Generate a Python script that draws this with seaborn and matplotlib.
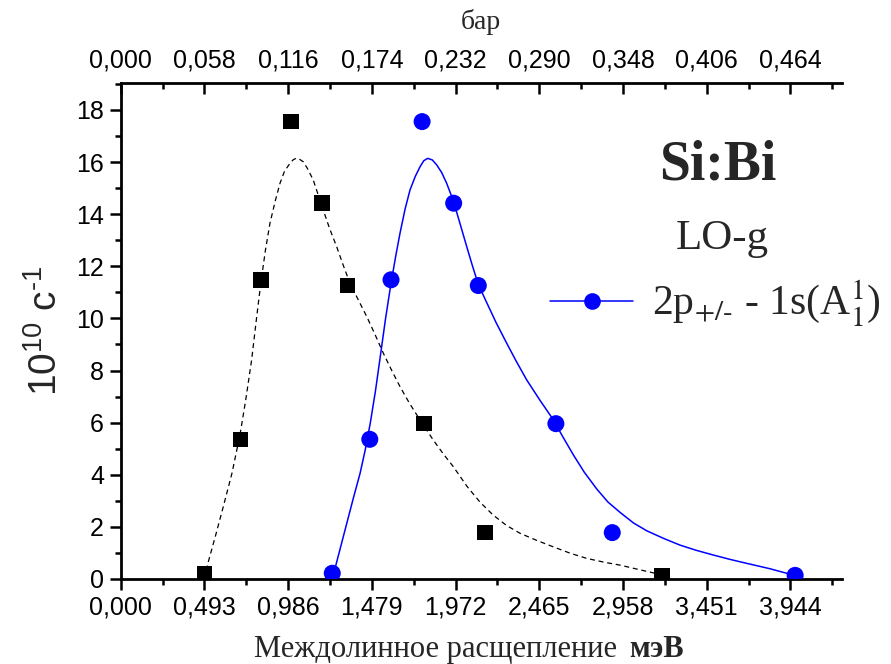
import numpy as np
import pandas as pd
import matplotlib
matplotlib.use("Agg")
import matplotlib.pyplot as plt
import seaborn as sns
from matplotlib.lines import Line2D
from matplotlib.font_manager import FontProperties
from matplotlib.ticker import FixedLocator, FixedFormatter

# ---------------- data ----------------
lo_x = [0.493, 0.705, 0.825, 1.003, 1.186, 1.335, 1.785, 2.146, 3.187]
lo_y = [0.22, 5.36, 11.48, 17.55, 14.42, 11.26, 5.96, 1.78, 0.14]

tp_x = [1.246, 1.467, 1.592, 1.775, 1.961, 2.106, 2.563, 2.895, 3.972]
tp_y = [0.22, 5.36, 11.48, 17.55, 14.42, 11.26, 5.96, 1.78, 0.14]

lo_fit_x = [0.493, 0.516, 0.560, 0.604, 0.655, 0.703, 0.737, 0.771, 0.798, 0.825,
            0.852, 0.879, 0.910, 0.938, 0.965, 0.997, 1.015, 1.032, 1.050, 1.075,
            1.100, 1.134, 1.160, 1.193, 1.230, 1.272, 1.310, 1.350, 1.400, 1.449,
            1.500, 1.547, 1.600, 1.645, 1.700, 1.763, 1.841, 1.900, 1.959, 2.040,
            2.116, 2.194, 2.273, 2.353, 2.451, 2.549, 2.647, 2.745, 2.843, 2.942,
            3.040, 3.160]
lo_fit_y = [0.00, 0.66, 1.70, 2.77, 4.05, 5.55, 6.90, 8.40, 9.90, 11.35,
            12.60, 13.65, 14.50, 15.18, 15.65, 15.95, 16.08, 16.14, 16.12, 16.01,
            15.75, 15.31, 14.80, 14.16, 13.45, 12.75, 12.05, 11.35, 10.70, 10.07,
            9.35, 8.66, 7.95, 7.38, 6.75, 6.10, 5.33, 4.80, 4.31, 3.55,
            2.95, 2.45, 2.05, 1.75, 1.48, 1.23, 0.99, 0.79, 0.65, 0.53,
            0.38, 0.20]

tp_fit_x = [1.250, 1.290, 1.332, 1.370, 1.410, 1.440, 1.469, 1.500, 1.528, 1.560,
            1.592, 1.620, 1.645, 1.675, 1.704, 1.735, 1.763, 1.785, 1.808, 1.835,
            1.861, 1.890, 1.920, 1.945, 1.969, 2.000, 2.038, 2.070, 2.106, 2.156,
            2.210, 2.273, 2.330, 2.391, 2.470, 2.549, 2.600, 2.667, 2.730, 2.804,
            2.870, 2.942, 3.020, 3.098, 3.200, 3.294, 3.390, 3.490, 3.590, 3.687,
            3.820, 3.962]
tp_fit_y = [0.10, 1.10, 2.15, 3.10, 4.06, 4.95, 5.95, 7.20, 8.50, 10.00,
            11.35, 12.40, 13.27, 14.20, 14.93, 15.45, 15.82, 16.05, 16.14, 16.08,
            15.89, 15.60, 15.18, 14.75, 14.29, 13.60, 12.75, 12.05, 11.30, 10.60,
            9.85, 9.05, 8.35, 7.64, 6.85, 6.10, 5.50, 4.75, 4.10, 3.45,
            2.95, 2.55, 2.15, 1.85, 1.55, 1.30, 1.10, 0.92, 0.75, 0.60,
            0.40, 0.15]

x_ticks = [0.000, 0.493, 0.986, 1.479, 1.972, 2.465, 2.958, 3.451, 3.944]
x_tick_labels = ["0,000", "0,493", "0,986", "1,479", "1,972", "2,465", "2,958", "3,451", "3,944"]
bar_ticks = [0.000, 0.058, 0.116, 0.174, 0.232, 0.290, 0.348, 0.406, 0.464]
bar_tick_labels = ["0,000", "0,058", "0,116", "0,174", "0,232", "0,290", "0,348", "0,406", "0,464"]
y_ticks = [0, 2, 4, 6, 8, 10, 12, 14, 16, 18]

series_label = r"2p$_{+/\text{-}}$ - 1s(A$_1^1$)"

# ---------------- style ----------------
sns.set_theme(style="white")
plt.rcParams["font.family"] = ["Liberation Sans", "DejaVu Sans"]
plt.rcParams["mathtext.fontset"] = "custom"
plt.rcParams["mathtext.rm"] = "Liberation Sans"
plt.rcParams["mathtext.it"] = "Liberation Sans"
plt.rcParams["mathtext.bf"] = "Liberation Sans:bold"

fig = plt.figure(figsize=(8.91, 6.64), dpi=100)
ax = fig.add_axes([120.7 / 891, 85 / 664, (842 - 120.7) / 891, (579 - 83.3) / 664])

lo_fit = pd.DataFrame({"x": lo_fit_x, "y": lo_fit_y})
tp_fit = pd.DataFrame({"x": tp_fit_x, "y": tp_fit_y})
lo = pd.DataFrame({"x": lo_x, "y": lo_y})
tp = pd.DataFrame({"x": tp_x, "y": tp_y})

sns.lineplot(data=lo_fit, x="x", y="y", ax=ax, color="black", lw=0.9,
             sort=False, estimator=None)
ax.lines[-1].set_dashes((4, 3))
sns.lineplot(data=tp_fit, x="x", y="y", ax=ax, color="#0000ff", lw=1.1,
             sort=False, estimator=None)
sns.scatterplot(data=lo, x="x", y="y", ax=ax, marker="s", s=125, color="black",
                edgecolor="none", zorder=5)
sns.scatterplot(data=tp, x="x", y="y", ax=ax, marker="o", s=150, color="#0000ff",
                edgecolor="none", zorder=5)

ax.set_xlim(0, 4.248)
ax.set_ylim(0, 19.02)

ax.xaxis.set_major_locator(FixedLocator(x_ticks))
ax.xaxis.set_major_formatter(FixedFormatter(x_tick_labels))
ax.xaxis.set_minor_locator(FixedLocator([t + 0.2465 for t in x_ticks]))
ax.yaxis.set_major_locator(FixedLocator(y_ticks))
ax.yaxis.set_minor_locator(FixedLocator([t + 1 for t in y_ticks]))

for s in ["left", "bottom", "top"]:
    ax.spines[s].set_linewidth(2.0)
    ax.spines[s].set_color("black")
ax.spines["right"].set_visible(False)
ax.spines["top"].set_visible(False)

ax.tick_params(axis="both", which="major", direction="out", length=8, width=1.8,
               labelsize=18, color="black", labelcolor="black", pad=4)
ax.tick_params(axis="both", which="minor", direction="out", length=4.5, width=1.8,
               color="black")
ax.tick_params(axis="x", which="both", bottom=True, top=False)
ax.tick_params(axis="y", which="both", left=True, right=False)

ax.set_xlabel("")
ax.set_ylabel(r"10$^{10}$ с$^{\text{-}1}$", fontsize=28, family=["Liberation Sans", "DejaVu Sans"])
ax.yaxis.set_label_coords(-0.078, 0.5)

# top (bar) axis
k = 0.464 / 3.944
sec = ax.secondary_xaxis("top", functions=(lambda x: x * k, lambda b: b / k))
sec.xaxis.set_major_locator(FixedLocator(bar_ticks))
sec.xaxis.set_major_formatter(FixedFormatter(bar_tick_labels))
sec.xaxis.set_minor_locator(FixedLocator([b + 0.029 for b in bar_ticks]))
sec.spines["top"].set_linewidth(2.0)
sec.spines["top"].set_color("black")
sec.tick_params(axis="x", which="major", direction="in", length=8, width=1.8,
                labelsize=18, color="black", labelcolor="black", pad=8)
sec.tick_params(axis="x", which="minor", direction="in", length=4.5, width=1.8,
                color="black")
sec.set_xlabel("бар", fontsize=20, family=["Liberation Serif"], labelpad=14)

# bottom label
fig.text(617 / 891, 1 - 657 / 664, "Междолинное расщепление", ha="right", va="baseline",
         fontsize=22, family=["Liberation Serif"])
fig.text(629 / 891, 1 - 657 / 664, "мэВ", ha="left", va="baseline",
         fontsize=22, family=["Liberation Serif"], weight="bold")

# annotations
fig.text(718 / 891, 1 - 180 / 664, "Si:Bi", ha="center", va="baseline",
         fontsize=40, family=["Liberation Serif"], weight="bold")
fig.text(722 / 891, 1 - 249 / 664, "LO-g", ha="center", va="baseline",
         fontsize=31, family=["Liberation Serif"])

handle = Line2D([], [], color="#0000ff", lw=1.1, marker="o", markersize=12,
                markeredgecolor="none")
leg = ax.legend([handle], [series_label], loc="center left",
                bbox_to_anchor=(550 / 891, 1 - 304 / 664), bbox_transform=fig.transFigure,
                frameon=False, handlelength=2.0, handletextpad=0.45, borderaxespad=0,
                borderpad=0,
                prop=FontProperties(family="Liberation Serif", size=30, math_fontfamily="stix"))

fig.savefig("out.png", dpi=100)
